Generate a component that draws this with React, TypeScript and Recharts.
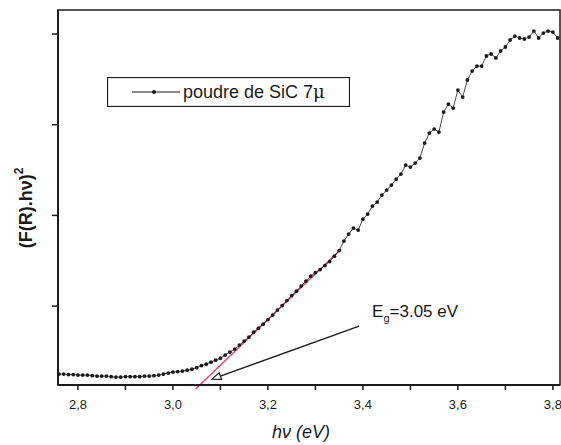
import { LineChart, Line, XAxis, YAxis, ReferenceLine, ReferenceArea, Legend } from "recharts";

// photon energy (eV)
const hv = [
  2.76, 2.77, 2.78, 2.79, 2.8, 2.81, 2.82, 2.83, 2.84, 2.85, 2.86, 2.87, 2.88, 2.89, 2.9,
  2.91, 2.92, 2.93, 2.94, 2.95, 2.96, 2.97, 2.98, 2.99, 3.0, 3.01, 3.02, 3.03, 3.04, 3.05,
  3.06, 3.07, 3.08, 3.09, 3.1, 3.11, 3.12, 3.13, 3.14, 3.15, 3.16, 3.17, 3.18, 3.19, 3.2,
  3.21, 3.22, 3.23, 3.24, 3.25, 3.26, 3.27, 3.28, 3.29, 3.3, 3.31, 3.32, 3.33, 3.34, 3.35,
  3.36, 3.37, 3.38, 3.39, 3.4, 3.41, 3.42, 3.43, 3.44, 3.45, 3.46, 3.47, 3.48, 3.49, 3.5,
  3.51, 3.52, 3.53, 3.54, 3.55, 3.56, 3.57, 3.58, 3.59, 3.6, 3.61, 3.62, 3.63, 3.64, 3.65,
  3.66, 3.67, 3.68, 3.69, 3.7, 3.71, 3.72, 3.73, 3.74, 3.75, 3.76, 3.77, 3.78, 3.79, 3.8,
  3.81,
];

// (F(R).hv)^2, arbitrary units
const fr = [
  0.25, 0.25, 0.245, 0.245, 0.239, 0.239, 0.239, 0.233, 0.228, 0.228, 0.228, 0.222, 0.217, 0.217, 0.222,
  0.222, 0.222, 0.222, 0.228, 0.228, 0.233, 0.239, 0.25, 0.261, 0.272, 0.278, 0.283, 0.294, 0.305, 0.322,
  0.344, 0.36, 0.382, 0.404, 0.426, 0.46, 0.493, 0.526, 0.57, 0.614, 0.658, 0.713, 0.757, 0.801, 0.851,
  0.901, 0.956, 1.006, 1.061, 1.116, 1.165, 1.221, 1.276, 1.331, 1.369, 1.403, 1.447, 1.491, 1.551, 1.612,
  1.717, 1.794, 1.86, 1.838, 1.959, 2.015, 2.103, 2.147, 2.224, 2.279, 2.334, 2.401, 2.456, 2.555, 2.533,
  2.577, 2.632, 2.798, 2.908, 2.952, 2.919, 3.14, 3.228, 3.184, 3.382, 3.305, 3.493, 3.592, 3.647, 3.647,
  3.758, 3.78, 3.736, 3.813, 3.857, 3.934, 3.978, 3.956, 3.945, 3.967, 4.033, 3.956, 4.011, 4.033, 4.022,
  3.956,
];

const xTicks = [2.8, 2.9, 3.0, 3.1, 3.2, 3.3, 3.4, 3.5, 3.6, 3.7, 3.8];
const yTicks = [1, 2, 3, 4];
const xDomain = [2.758, 3.815];
const yDomain = [0.13, 4.265];

const tangent = [
  { x: 3.048, y: 0.085 },
  { x: 3.354, y: 1.629 },
];
const arrow = [
  { x: 3.392, y: 0.779 },
  { x: 3.082, y: 0.195 },
];

const seriesName = "poudre de SiC 7";
const gapText = "=3.05 eV";

const data = hv.map((x, i) => ({ hv: x, v: fr[i] }));

const FONT = "'Liberation Sans', Arial, sans-serif";
const INK = "#1a1a1a";

function ArrowShape(props: any) {
  const { x1, y1, x2, y2 } = props;
  const ang = Math.atan2(y2 - y1, x2 - x1);
  const len = 9;
  const half = 3.5;
  const bx = x2 - len * Math.cos(ang);
  const by = y2 - len * Math.sin(ang);
  const ox = -Math.sin(ang) * half;
  const oy = Math.cos(ang) * half;
  return (
    <g>
      <line x1={x1} y1={y1} x2={bx} y2={by} stroke={INK} strokeWidth={1.3} />
      <polygon
        points={`${x2},${y2} ${bx + ox},${by + oy} ${bx - ox},${by - oy}`}
        fill="#fff"
        stroke={INK}
        strokeWidth={1.2}
      />
      <text x={x1 + 13} y={y1 - 9} fontSize={17} fontFamily={FONT} fill={INK}>
        E
        <tspan fontSize={11} dy={5}>
          g
        </tspan>
        <tspan dy={-5}>{gapText}</tspan>
      </text>
    </g>
  );
}

function LegendBox() {
  return (
    <svg width={243} height={30} style={{ display: "block" }}>
      <rect x={0.5} y={0.5} width={242} height={29} fill="#fff" stroke={INK} strokeWidth={1.2} />
      <line x1={25} y1={15} x2={73} y2={15} stroke={INK} strokeWidth={1} />
      <circle cx={47} cy={15} r={2} fill={INK} />
      <text x={76} y={21} fontSize={18} fontFamily={FONT} fill={INK}>
        {seriesName}
        <tspan fontFamily="'DejaVu Serif', serif">μ</tspan>
      </text>
    </svg>
  );
}

export default function App() {
  return (
    <div style={{ position: "absolute", left: 0, top: 0, background: "#fff" }}>
      <LineChart
        width={561}
        height={445}
        data={data}
        margin={{ top: 10, right: 1, left: 0, bottom: 0 }}
      >
        <XAxis
          dataKey="hv"
          type="number"
          domain={xDomain}
          allowDataOverflow
          ticks={xTicks}
          interval={0}
          height={60}
          tickSize={5}
          tickMargin={10}
          tickFormatter={(v: number) =>
            Math.round(v * 10) % 2 === 0 ? v.toFixed(1).replace(".", ",") : ""
          }
          tick={{ fontSize: 13, fill: INK, fontFamily: FONT }}
          tickLine={{ stroke: INK, strokeWidth: 1.5 }}
          axisLine={{ stroke: INK, strokeWidth: 2 }}
          label={{
            content: (p: any) => (
              <text
                x={p.viewBox.x + p.viewBox.width / 2 - 8}
                y={p.viewBox.y + 53}
                textAnchor="middle"
                fontSize={18}
                fontStyle="italic"
                fontFamily={FONT}
                fill={INK}
              >
                hν (eV)
              </text>
            ),
          }}
        />
        <YAxis
          type="number"
          domain={yDomain}
          allowDataOverflow
          ticks={yTicks}
          width={58}
          tickSize={6}
          tickFormatter={() => ""}
          tickLine={{ stroke: INK, strokeWidth: 1.5 }}
          axisLine={{ stroke: INK, strokeWidth: 2 }}
          label={{
            content: (p: any) => {
              const cx = p.viewBox.x + 26;
              const cy = p.viewBox.y + 198;
              return (
                <text
                  x={cx}
                  y={cy}
                  transform={`rotate(-90 ${cx} ${cy})`}
                  textAnchor="middle"
                  dominantBaseline="central"
                  fontSize={18}
                  fontWeight="bold"
                  fontFamily={FONT}
                  fill={INK}
                >
                  (F(R).hν)
                  <tspan fontSize={12} dy={-7}>
                    2
                  </tspan>
                </text>
              );
            },
          }}
        />
        <ReferenceArea
          x1={xDomain[0]}
          x2={xDomain[1]}
          y1={yDomain[0]}
          y2={yDomain[1]}
          ifOverflow="visible"
          fill="none"
          fillOpacity={0}
          stroke={INK}
          strokeWidth={1.5}
        />
        <ReferenceLine
          segment={tangent}
          ifOverflow="visible"
          stroke="#e4466a"
          strokeWidth={1.5}
        />
        <ReferenceLine segment={arrow} ifOverflow="visible" shape={ArrowShape} />
        <Line
          dataKey="v"
          type="linear"
          stroke={INK}
          strokeWidth={0.8}
          dot={{ r: 1.9, fill: INK, stroke: "none" }}
          isAnimationActive={false}
        />
        <Legend
          layout="vertical"
          align="center"
          verticalAlign="middle"
          content={() => <LegendBox />}
          wrapperStyle={{ left: 107, top: 77, width: 243, height: 30 }}
        />
      </LineChart>
    </div>
  );
}
